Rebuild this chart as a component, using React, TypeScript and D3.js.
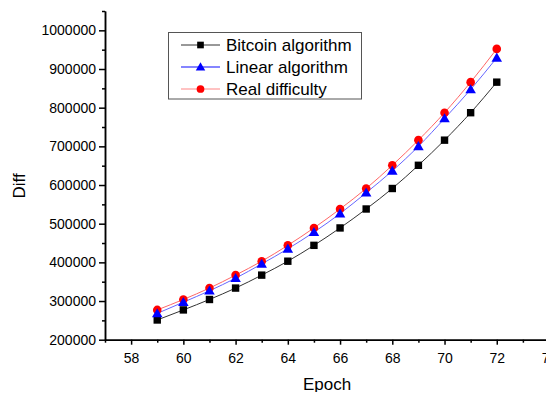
import React, { useRef, useEffect } from 'react';
import * as d3 from 'd3';

// epochs on the x axis
const epochs = [59, 60, 61, 62, 63, 64, 65, 66, 67, 68, 69, 70, 71, 72];

// series
const bitcoinAlg = [251000, 277000, 304000, 333500, 367000, 403000, 444000, 489000, 538000, 591000, 651000, 716000, 787000, 866000];
const linearAlg = [268000, 297000, 326500, 359000, 396000, 435000, 478000, 526000, 580000, 636500, 700000, 772000, 847000, 929000];
const realDiff = [277000, 304000, 333500, 367000, 403000, 444000, 489000, 538000, 591000, 651000, 716000, 787000, 866000, 952000];

const xTicks = [58, 60, 62, 64, 66, 68, 70, 72, 74];
const yTicks = [200000, 300000, 400000, 500000, 600000, 700000, 800000, 900000, 1000000];

const seriesNames = ['Bitcoin algorithm', 'Linear algorithm', 'Real difficulty'];

export default function App() {
  const svgRef = useRef<SVGSVGElement>(null);

  useEffect(() => {
    if (!svgRef.current) return;
    const width = 554;
    const height = 400;
    const svg = d3.select(svgRef.current).attr('width', width).attr('height', height);
    svg.selectAll('*').remove();

    const margins = { top: 11, left: 105, right: 5, bottom: 60 };

    //scales
    const xScale = d3.scaleLinear().domain([57, 74]).range([margins.left, 549]);
    const yScale = d3.scaleLinear().domain([200000, 1050000]).range([339.7, margins.top]);

    const font = 'Arial, "Liberation Sans", sans-serif';

    //axes
    const xAxis = d3.axisBottom(xScale).tickValues(xTicks).tickSize(5).tickSizeOuter(0).tickPadding(8)
      .tickFormat(d => `${d}`);
    const xMinor = d3.axisBottom(xScale).tickValues(d3.range(57, 74, 2)).tickSize(3).tickSizeOuter(0).tickFormat(() => '');
    const yAxis = d3.axisLeft(yScale).tickValues(yTicks).tickSize(6).tickSizeOuter(0).tickPadding(3)
      .tickFormat(d => `${d}`);
    const yMinor = d3.axisLeft(yScale).tickValues(d3.range(250000, 1050001, 100000)).tickSize(3).tickSizeOuter(0).tickFormat(() => '');

    const styleAxis = (g: any) => {
      g.select('.domain').attr('stroke', '#000').attr('stroke-width', 1.5);
      g.selectAll('line').attr('stroke', '#000').attr('stroke-width', 1.5);
      g.selectAll('text').attr('fill', '#000').attr('font-size', 14).attr('font-family', font);
    };

    svg.append('g').attr('transform', 'translate(0,339.7)').call(xMinor).call(styleAxis);
    svg.append('g').attr('transform', 'translate(0,339.7)').call(xAxis).call(styleAxis);
    svg.append('g').attr('transform', `translate(${margins.left},0)`).call(yMinor).call(styleAxis);
    svg.append('g').attr('transform', `translate(${margins.left},0)`).call(yAxis).call(styleAxis);

    //axis titles
    svg.append('text').attr('x', 327).attr('y', 390).attr('text-anchor', 'middle')
      .attr('font-size', 17).attr('font-family', font).text('Epoch');
    svg.append('text').attr('transform', 'translate(25,186) rotate(-90)').attr('text-anchor', 'middle')
      .attr('font-size', 17).attr('font-family', font).text('Diff');

    const lineColors = ['#333333', '#6666ff', '#ff6666'];
    const markColors = ['#000000', '#0000ff', '#ff0000'];
    const seriesData = [bitcoinAlg, linearAlg, realDiff];

    const line = d3.line<number>()
      .x((_, i) => xScale(epochs[i]))
      .y(d => yScale(d))
      .curve(d3.curveMonotoneX);

    const drawMarker = (g: any, kind: number, x: number, y: number, s: number) => {
      if (kind === 0) {
        g.append('rect').attr('x', x - 3.7 * s).attr('y', y - 3.7 * s).attr('width', 7.4 * s).attr('height', 7.4 * s)
          .attr('fill', markColors[0]);
      } else if (kind === 1) {
        const sym = d3.symbol().type(d3.symbolTriangle).size(48 * s * s);
        g.append('path').attr('d', sym()).attr('transform', `translate(${x},${y + 0.8})`).attr('fill', markColors[1]);
      } else {
        g.append('circle').attr('cx', x).attr('cy', y).attr('r', 4.3 * s).attr('fill', markColors[2]);
      }
    };

    seriesData.forEach((vals, k) => {
      svg.append('path').datum(vals).attr('fill', 'none').attr('stroke', lineColors[k])
        .attr('stroke-width', 1).attr('d', line);
    });
    // draw markers black first, then red, then blue on top (as in the reference)
    [0, 2, 1].forEach(k => {
      const g = svg.append('g');
      seriesData[k].forEach((v, i) => drawMarker(g, k, xScale(epochs[i]), yScale(v), 1));
    });

    //legend
    const legend = svg.append('g');
    legend.append('rect').attr('x', 168.5).attr('y', 32.5).attr('width', 193).attr('height', 66.5)
      .attr('fill', '#fff').attr('stroke', '#555').attr('stroke-width', 1);
    seriesNames.forEach((name, k) => {
      const y = 45 + k * 22;
      legend.append('line').attr('x1', 181).attr('x2', 220).attr('y1', y).attr('y2', y)
        .attr('stroke', lineColors[k]).attr('stroke-width', k === 1 ? 2 : 1).attr('stroke-opacity', k === 0 ? 1 : 0.8);
      drawMarker(legend, k, 200.5, y, 0.9);
      legend.append('text').attr('x', 226).attr('y', y + 6).attr('font-size', 17).attr('font-family', font)
        .attr('fill', '#000').text(name);
    });
  }, []);

  return (
    <div style={{ width: 554, height: 400, margin: -8, background: '#fff' }}>
      <svg ref={svgRef} style={{ display: 'block' }} />
    </div>
  );
}
